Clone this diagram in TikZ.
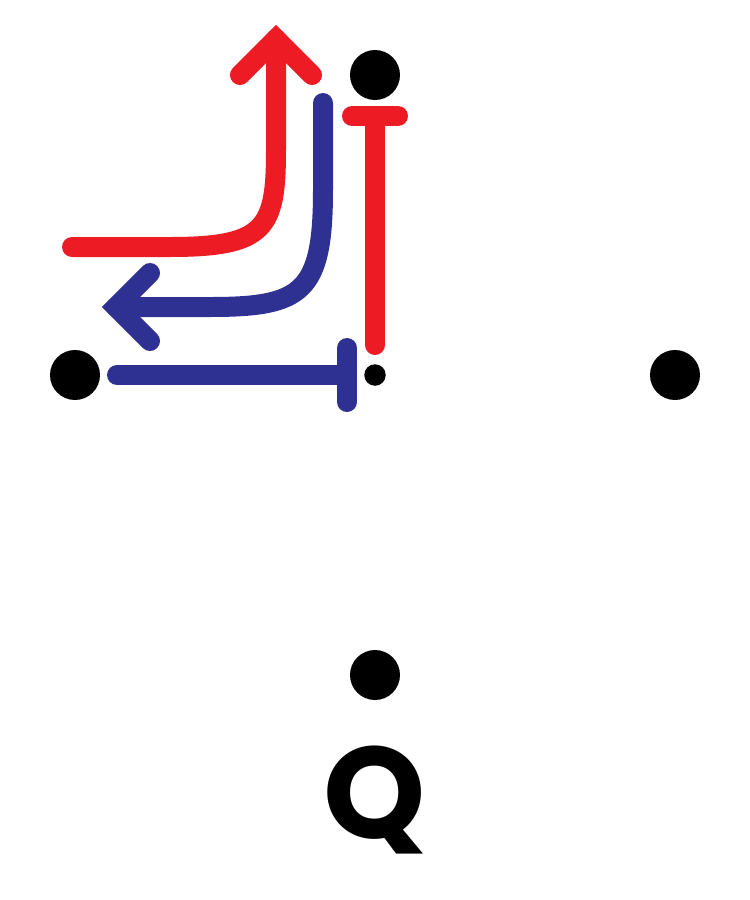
\documentclass[tikz,border=0pt]{standalone}
\usepackage{fontspec}
\newfontfamily\qfont{Poppins}
\usetikzlibrary{calc}
\definecolor{sigred}{HTML}{ED1C24}
\definecolor{sigblue}{HTML}{2E3192}

\begin{document}
\begin{tikzpicture}[
  x=0.02cm, y=-0.02cm,
  dot/.style={circle, fill=black, inner sep=0pt, minimum size=1cm},
  smalldot/.style={circle, fill=black, inner sep=0pt, minimum size=0.43cm},
  redline/.style={draw=sigred, line width=0.4cm, line cap=round, line join=miter},
  blueline/.style={draw=sigblue, line width=0.4cm, line cap=round, line join=miter},
  lbl/.style={font=\qfont\bfseries\fontsize{74}{80}\selectfont, inner sep=0pt}
]
\useasboundingbox (0,0) rectangle (750,900);

% ---------------- the four corners ----------------
\node[dot] (top) at (375,75) {};
\node[dot] (left) at (75,375) {};
\node[dot] (right) at (675,375) {};
\node[dot] (bottom) at (375,675) {};
\node[smalldot] (centre) at (375,375) {};
\node[lbl] (q) at (375,800) {Q};

% ---------------- red: up, and stopped at the top ----------------
\coordinate (rstart) at (72,247);
\coordinate (rtip) at (276,39);
\draw[redline] (rstart) -- (170,247) .. controls (266,247) and (276,228) .. (276,150) -- (rtip);
\draw[redline] ($(rtip)+(-36,36)$) -- (rtip) -- ($(rtip)+(36,36)$);

\coordinate (rbar) at (375,116);
\coordinate (rfoot) at (375,345);
\draw[redline] (rfoot) -- (rbar);
\draw[redline] ($(rbar)+(-23,0)$) -- ($(rbar)+(23,0)$);

% ---------------- blue: left, and stopped at the centre ----------------
\coordinate (bstart) at (323,103);
\coordinate (btip) at (116,307);
\draw[blueline] (bstart) -- (323,190) .. controls (323,293) and (302,307) .. (210,307) -- (btip);
\draw[blueline] ($(btip)+(34,-34)$) -- (btip) -- ($(btip)+(34,34)$);

\coordinate (bfoot) at (117,375);
\coordinate (bbar) at (347,375);
\draw[blueline] (bfoot) -- (bbar);
\draw[blueline] ($(bbar)+(0,-27)$) -- ($(bbar)+(0,27)$);

\end{tikzpicture}
\end{document}
